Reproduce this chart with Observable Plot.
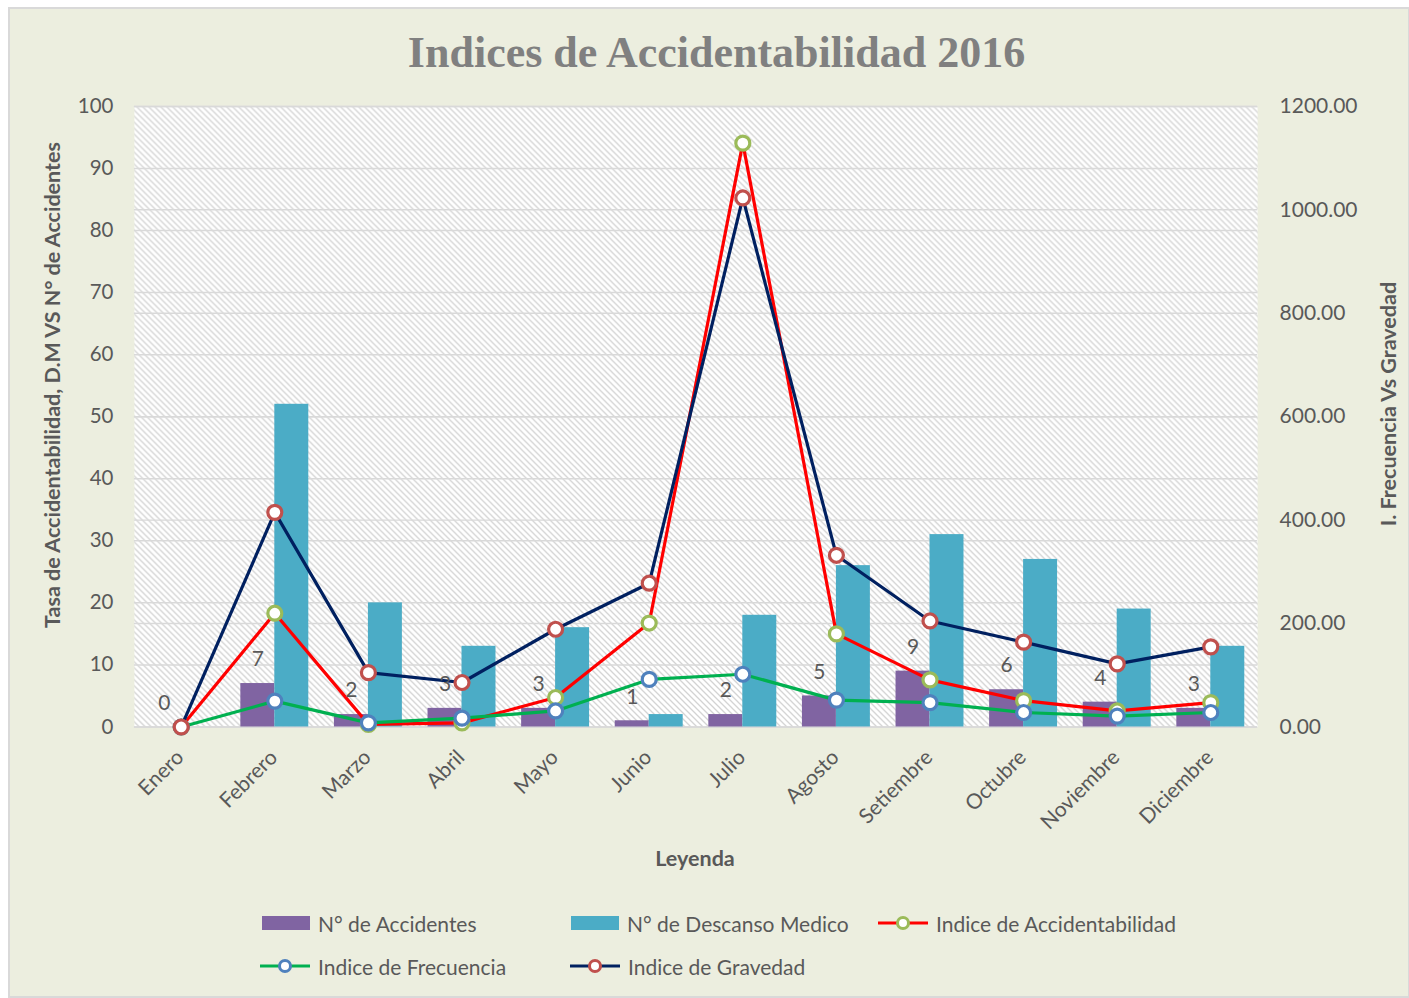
<!DOCTYPE html>
<html>
<head>
<meta charset="utf-8">
<script src="https://cdn.jsdelivr.net/npm/d3@7"></script>
<script src="https://cdn.jsdelivr.net/npm/@observablehq/plot@0.6"></script>
<style>
  html, body { margin: 0; padding: 0; background: #ffffff; }
  #chart { position: absolute; left: 8px; top: 7px; width: 1398px; height: 987px;
           background: #ECEEDF; border: 2px solid #D9D9D9; overflow: hidden; }
  #plot { position: absolute; left: -10px; top: -9px; }
  .t { position: absolute; font-family: Lato, "Open Sans", sans-serif; color: #595959; white-space: nowrap; }
  #title { left: -8px; width: 1429px; top: 18px; text-align: center; font-family: "Liberation Serif", "DejaVu Serif", serif;
           font-weight: bold; font-size: 44px; color: #808080; }
  .axt { font-weight: bold; font-size: 21.5px; }
  .leg { font-size: 21px; display: flex; align-items: center; }
</style>
</head>
<body>
<div id="chart">
  <div id="plot"></div>
  <div class="t" id="title">Indices de Accidentabilidad 2016</div>
  <div class="t axt" id="ylab" style="left:42px; top:376px; transform: translate(-50%,-50%) rotate(-90deg);">Tasa de Accidentabilidad, D.M VS N° de Accidentes</div>
  <div class="t axt" id="y2lab" style="left:1378px; top:395px; transform: translate(-50%,-50%) rotate(-90deg);">I. Frecuencia Vs Gravedad</div>
  <div class="t axt" id="xlab" style="left:685px; top:849px; transform: translate(-50%,-50%);">Leyenda</div>
  <div id="legend"></div>
</div>
<script>
const meses = ["Enero","Febrero","Marzo","Abril","Mayo","Junio","Julio","Agosto","Setiembre","Octubre","Noviembre","Diciembre"];
const accidentes = [0, 7, 2, 3, 3, 1, 2, 5, 9, 6, 4, 3];
const descansoMedico = [0, 52, 20, 13, 16, 2, 18, 26, 31, 27, 19, 13];
const indiceAccidentabilidad = [0, 220, 5, 8, 57, 201, 1129, 180, 91, 51, 31, 47];
const indiceFrecuencia = [0, 50, 8, 17, 31, 92, 102, 52, 47, 28, 21, 28];
const indiceGravedad = [0, 415, 105, 86, 189, 278, 1023, 332, 205, 164, 122, 155];
const leftTicks = [0, 10, 20, 30, 40, 50, 60, 70, 80, 90, 100];
const rightTicks = [0, 200, 400, 600, 800, 1000, 1200];
const leftMax = 100, rightMax = 1200;
const k = rightMax / leftMax;

const seriesNames = ["N° de Accidentes","N° de Descanso Medico","Indice de Accidentabilidad","Indice de Frecuencia","Indice de Gravedad"];
const colors = {
  acc: "#8064A2", dm: "#4BACC6",
  iaLine: "#FF0000", iaMark: "#9BBB59",
  ifLine: "#00B050", ifMark: "#4F81BD",
  igLine: "#002060", igMark: "#C0504D"
};

const rows = meses.map((m, i) => ({
  mes: m, acc: accidentes[i], dm: descansoMedico[i],
  ia: indiceAccidentabilidad[i], if: indiceFrecuencia[i], ig: indiceGravedad[i]
}));

const W = 1409, H = 890;
const mL = 134, mR = W - 1258, mT = 106, mB = H - 727;
const step = (W - mL - mR) / meses.length;
const barW = 34;
const pInner = 1 - barW / step;

function lineSeries(key, lineColor, markColor) {
  return [
    Plot.line(rows, {x: "mes", y: d => d[key] / k, stroke: lineColor, strokeWidth: 3.2, strokeLinejoin: "round"}),
    Plot.dot(rows, {x: "mes", y: d => d[key] / k, r: 7, stroke: markColor, strokeWidth: 3.2, fill: "white"})
  ];
}

const plot = Plot.plot({
  width: W, height: H,
  marginLeft: mL, marginRight: mR, marginTop: mT, marginBottom: mB,
  style: {fontFamily: "Lato, 'Open Sans', sans-serif", fontSize: "21px", color: "#595959", background: "transparent", overflow: "visible"},
  x: {type: "band", domain: meses, paddingInner: pInner, paddingOuter: pInner / 2, round: false, label: null},
  y: {domain: [0, leftMax], label: null},
  marks: [
    Plot.frame({fill: "url(#hatch)", stroke: null}),
    Plot.ruleY(leftTicks, {stroke: "#D9D9D9", strokeWidth: 1.5}),
    Plot.ruleY(rightTicks.map(t => t / k), {stroke: "#D9D9D9", strokeWidth: 1.5}),
    Plot.barY(rows, {x: "mes", y: "acc", fill: colors.acc, dx: -barW / 2}),
    Plot.barY(rows, {x: "mes", y: "dm", fill: colors.dm, dx: barW / 2}),
    ...lineSeries("ia", colors.iaLine, colors.iaMark),
    ...lineSeries("if", colors.ifLine, colors.ifMark),
    ...lineSeries("ig", colors.igLine, colors.igMark),
    Plot.text(rows, {x: "mes", y: "acc", text: d => String(d.acc), dx: -barW / 2, dy: -24, fill: "#595959", fontSize: 21}),
    Plot.axisY(leftTicks, {anchor: "left", tickSize: 0, tickPadding: 21, label: null, fontSize: 20.5}),
    Plot.axisY(rightTicks.map(t => t / k), {anchor: "right", tickSize: 0, tickPadding: 22, label: null, fontSize: 21,
      tickFormat: d => (d * k).toFixed(2)}),
    Plot.axisX({tickSize: 0, tickPadding: 19, tickRotate: -45, label: null, fontSize: 21, dx: -1, dy: 8})
  ]
});

const svg = d3.select(plot);
const defs = svg.insert("defs", ":first-child");
const pat = defs.append("pattern").attr("id", "hatch").attr("patternUnits", "userSpaceOnUse")
  .attr("width", 6).attr("height", 6);
pat.append("rect").attr("width", 6).attr("height", 6).attr("fill", "#FFFFFF");
pat.append("path").attr("d", "M-1,-1 L7,7 M-1,5 L1,7 M5,-1 L7,1")
  .attr("stroke", "#D3D3D3").attr("stroke-width", 1.3);
document.getElementById("plot").appendChild(plot);

// Legend
const legendItems = [
  {name: seriesNames[0], type: "bar", color: colors.acc, x: 250, y: 914},
  {name: seriesNames[1], type: "bar", color: colors.dm, x: 559, y: 914},
  {name: seriesNames[2], type: "line", color: colors.iaLine, mark: colors.iaMark, x: 868, y: 914},
  {name: seriesNames[3], type: "line", color: colors.ifLine, mark: colors.ifMark, x: 250, y: 957},
  {name: seriesNames[4], type: "line", color: colors.igLine, mark: colors.igMark, x: 560, y: 957}
];
const leg = document.getElementById("legend");
for (const it of legendItems) {
  const d = document.createElement("div");
  d.className = "t leg";
  d.style.left = it.x + "px";
  d.style.top = (it.y - 14) + "px";
  let sw;
  if (it.type === "bar") {
    sw = `<svg width="56" height="28"><rect x="2" y="7" width="48" height="14" fill="${it.color}"/></svg>`;
  } else {
    sw = `<svg width="56" height="28"><line x1="0" y1="14" x2="50" y2="14" stroke="${it.color}" stroke-width="3.2"/><circle cx="25" cy="14" r="5.5" fill="white" stroke="${it.mark}" stroke-width="3"/></svg>`;
  }
  d.innerHTML = sw + `<span style="margin-left:2px">${it.name}</span>`;
  leg.appendChild(d);
}
</script>
</body>
</html>
